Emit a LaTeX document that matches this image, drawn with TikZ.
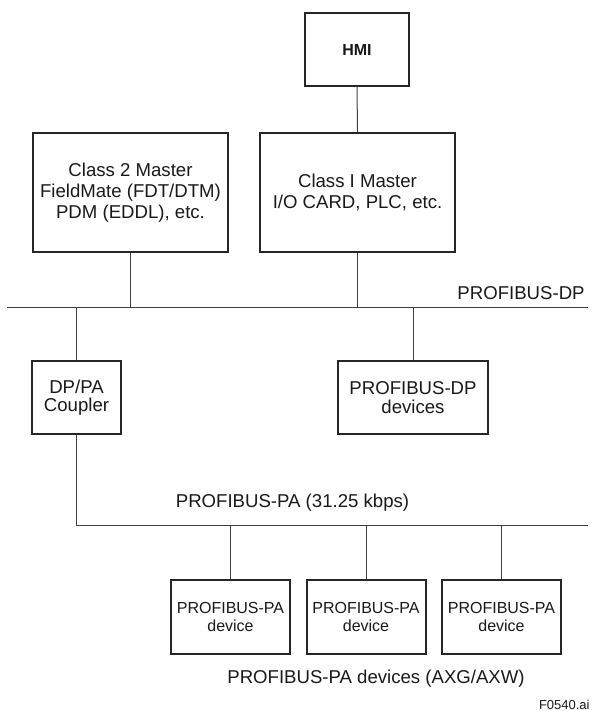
\documentclass[tikz,border=0pt]{standalone}
\usepackage{fontspec}
\setmainfont{Liberation Sans}
\begin{document}
\begin{tikzpicture}[x=0.5pt, y=-0.5pt,
    box/.style={draw=black!85, line width=1pt, align=center, inner sep=0pt,
                text=black!90, font=\fontsize{9.3}{10.6}\selectfont},
    smallbox/.style={box, minimum height=36.5pt, font=\fontsize{9.3}{9.3}\selectfont},
    devbox/.style={box, minimum width=59.5pt, minimum height=37pt,
                font=\fontsize{8}{8.6}\selectfont},
    wire/.style={draw=black!75, line width=0.5pt},
    lbl/.style={font=\fontsize{9.3}{11}\selectfont, text=black!90, inner sep=0pt}]
    \useasboundingbox (0,0) rectangle (591,711);
    % hosts
    \node[box, minimum width=52pt, minimum height=36.5pt, font=\fontsize{8}{9}\selectfont\bfseries] (hmi) at (357, 49.5) {HMI};
    \node[box, minimum width=97.5pt, minimum height=59.5pt] (master2) at (130.5, 192.5) {Class 2 Master\\FieldMate (FDT/DTM)\\PDM (EDDL), etc.};
    \node[box, minimum width=97.5pt, minimum height=59.5pt] (master1) at (357.5, 192.5) {Class I Master\\I/O CARD, PLC, etc.};
    % DP segment
    \coordinate (dpL) at (7, 307);
    \coordinate (dpR) at (588, 307);
    \draw[wire] (dpL) -- (dpR);
    \node[lbl, anchor=base east] (dplabel) at (585, 299) {PROFIBUS-DP};
    \draw[wire] (hmi.south) -- (master1.north);
    \draw[wire] (master2.south) -- (master2 |- dpL);
    \draw[wire] (master1.south) -- (master1 |- dpL);
    \node[smallbox, minimum width=44.5pt] (coupler) at (76.5, 397.5) {DP/PA\\Coupler};
    \node[smallbox, minimum width=75pt] (dpdev) at (413, 397.5) {PROFIBUS-DP\\devices};
    \draw[wire] (coupler.north) -- (coupler |- dpL);
    \draw[wire] (dpdev.north) -- (dpdev |- dpL);
    % PA segment
    \coordinate (paR) at (588, 525);
    \draw[wire] (coupler.south) -- (coupler |- paR) -- (paR);
    \node[lbl] (palabel) at (292.5, 503) {PROFIBUS-PA (31.25 kbps)};
    \foreach \n/\x in {1/230.5, 2/366, 3/501.5} {
        \node[devbox] (padev\n) at (\x, 617) {PROFIBUS-PA\\device};
        \draw[wire] (padev\n.north) -- (padev\n |- paR);
    }
    \node[lbl] (devlabel) at (376, 679) {PROFIBUS-PA devices (AXG/AXW)};
    \node[font=\fontsize{6.5}{7}\selectfont, text=black!90, inner sep=0pt, anchor=base east] (fig) at (590, 709) {F0540.ai};
\end{tikzpicture}
\end{document}
